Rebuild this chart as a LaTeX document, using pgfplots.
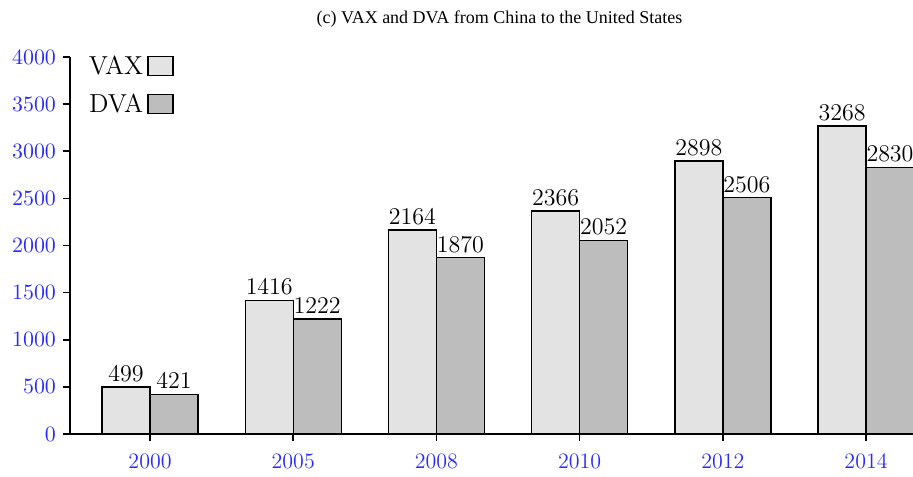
\documentclass[border=0pt]{standalone}
\usepackage{fontspec}
\usepackage{pgfplots}
\pgfplotsset{compat=1.18}
\usetikzlibrary{calc}
\newfontfamily\timesfont{Liberation Serif}
\definecolor{vaxc}{HTML}{E3E3E3}
\definecolor{dvac}{HTML}{BDBDBD}
\definecolor{tickblue}{HTML}{2A2AFF}
\begin{document}
\begin{tikzpicture}
\begin{axis}[
  scale only axis,
  width=421.5pt, height=188.5pt,
  ybar=0pt, bar width=0.335,
  xmin=-0.559, xmax=5.328,
  ymin=0, ymax=4000,
  xtick={0,1,2,3,4,5},
  xticklabels={2000,2005,2008,2010,2012,2014},
  ytick={0,500,1000,1500,2000,2500,3000,3500,4000},
  axis x line=bottom, axis y line=left,
  axis line style={-, line width=0.8pt},
  tick align=outside, major tick length=3.5pt,
  tick style={black, line width=0.8pt},
  ticklabel style={font=\fontsize{11}{13}\selectfont, text=tickblue},
  xticklabel style={yshift=-3pt},
  scaled y ticks=false,
  /pgf/number format/1000 sep={},
  nodes near coords,
  every node near coord/.append style={font=\fontsize{11.5}{13}\selectfont, black, inner sep=2.5pt, /pgf/number format/1000 sep={}},
  title={\timesfont\fontsize{9}{11}\selectfont (c) VAX and DVA from China to the United States},
  title style={anchor=base, yshift=10.5pt, xshift=4pt},
  legend style={draw=none, fill=none, at={(0.01,1.025)}, anchor=north west, font=\fontsize{13}{15}\selectfont, row sep=4pt},
  legend plot pos=right,
  legend cell align=right,
  legend image code/.code={\draw[#1, line width=0.7pt] (3.5pt,-4.5pt) rectangle (16pt,5pt);},
]
\addplot[fill=vaxc, draw=black, line width=0.7pt] coordinates {(0,499) (1,1416) (2,2164) (3,2366) (4,2898) (5,3268)};
\addplot[fill=dvac, draw=black, line width=0.7pt] coordinates {(0,421) (1,1222) (2,1870) (3,2052) (4,2506) (5,2830)};
\legend{VAX,DVA}
\end{axis}
\pgfresetboundingbox
\path ($(current axis.south west)+(-35pt,-21.5pt)$) rectangle ($(current axis.north east)+(0pt,28.5pt)$);
\end{tikzpicture}
\end{document}
